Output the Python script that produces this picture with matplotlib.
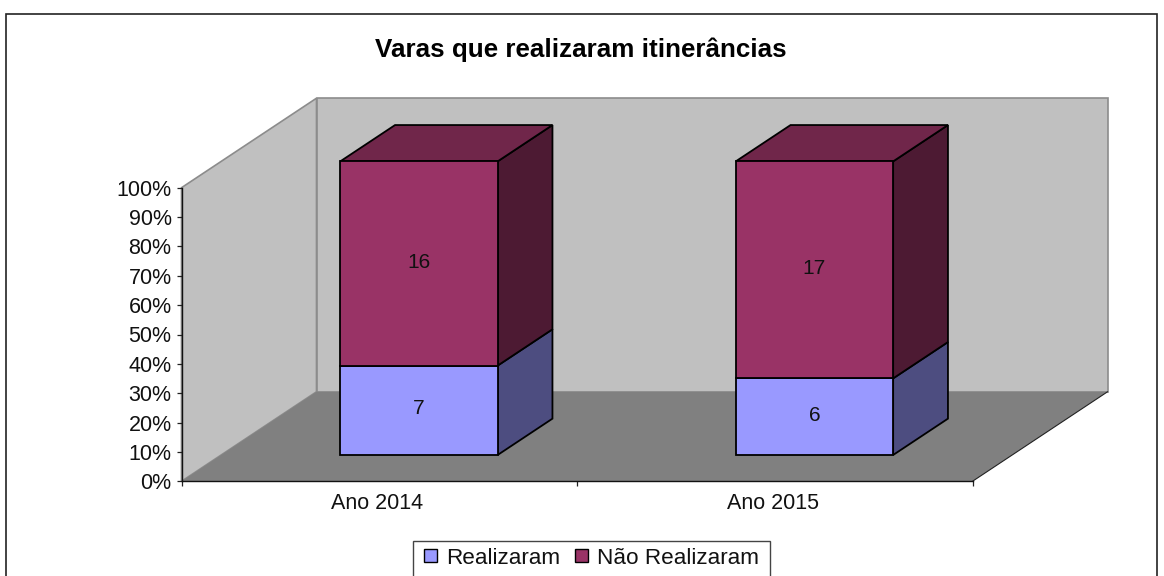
import matplotlib
matplotlib.use('Agg')
import matplotlib.pyplot as plt
from matplotlib.patches import Polygon, Rectangle

W, H = 1164, 576

categories = ['Ano 2014', 'Ano 2015']
realizaram = [7, 6]
nao_realizaram = [16, 17]
yticks = [0, 10, 20, 30, 40, 50, 60, 70, 80, 90, 100]
title = 'Varas que realizaram itinerâncias'

front_col = ['#9999ff', '#993366']
top_col = ['#7777c6', '#70264a']
side_col = ['#4d4d80', '#4d1a33']
wall = '#c0c0c0'
floor = '#808080'

plt.rcParams['font.family'] = ['Liberation Sans', 'DejaVu Sans']

fig = plt.figure(figsize=(W/100, H/100), dpi=100)
bg = fig.add_axes([0, 0, 1, 1])
bg.set_xlim(0, W)
bg.set_ylim(H, 0)
bg.axis('off')
# chart frame and legend box both run off the bottom of the image
bg.add_patch(Rectangle((5.5, 13.5), 1151.5, 600, fc='white', ec='#222222', lw=1.2))
bg.add_patch(Rectangle((413, 541), 356.5, 60, fc='white', ec='#444444', lw=1.0))

# front plane of the 3d box: x in categories, y in percent
L, R, T, B = 181.5, 972.5, 187.7, 481.3
ax = fig.add_axes([L/W, 1-B/H, (R-L)/W, (B-T)/H])
ax.set_xlim(0, len(categories))
ax.set_ylim(0, 100)
ax.patch.set_alpha(0)
for s in ['top', 'right']:
    ax.spines[s].set_visible(False)

# depth in pixels, converted to axes data units
px = len(categories)/(R-L)
py = 100/(B-T)
depth_x, depth_y = 135*px, 89.5*py
n = len(categories)


def off(x, y, d):
    # point at depth d (0 front, 1 back)
    return (x + d*depth_x, y + d*depth_y)


def poly(pts, **kw):
    ax.add_patch(Polygon(pts, closed=True, clip_on=False, **kw))


# walls and floor
poly([off(0, 0, 0), off(0, 100, 0), off(0, 100, 1), off(0, 0, 1)], fc=wall, ec='#8c8c8c', lw=1.2, zorder=1)
poly([off(0, 0, 1), off(0, 100, 1), off(n, 100, 1), off(n, 0, 1)], fc=wall, ec='#8c8c8c', lw=1.2, zorder=1)
poly([off(0, 0, 0), off(0, 0, 1), off(n, 0, 1), off(n, 0, 0)], fc=floor, ec='none', zorder=1.5)
ax.plot([n, n+depth_x], [0, depth_y], color='#222222', lw=0.8, clip_on=False, zorder=1.6)

# bars
bar_w = 0.398
d0, d1 = 0.294, 0.70
for i in range(n):
    x0, x1 = i + 0.5 - bar_w/2, i + 0.5 + bar_w/2
    total = realizaram[i] + nao_realizaram[i]
    bottom = 0
    for j, vals in enumerate([realizaram, nao_realizaram]):
        top = bottom + vals[i]/total*100
        poly([off(x1, bottom, d0), off(x1, top, d0), off(x1, top, d1), off(x1, bottom, d1)],
             fc=side_col[j], ec='black', lw=1.3, zorder=3)
        if j == 1:
            poly([off(x0, top, d0), off(x1, top, d0), off(x1, top, d1), off(x0, top, d1)],
                 fc=top_col[j], ec='black', lw=1.3, zorder=3)
        poly([off(x0, bottom, d0), off(x1, bottom, d0), off(x1, top, d0), off(x0, top, d0)],
             fc=front_col[j], ec='black', lw=1.3, zorder=4)
        cx, cy = off(i + 0.5, (bottom + top)/2 + 0.5, d0)
        ax.text(cx, cy, str(vals[i]), ha='center', va='center', fontsize=15, zorder=5, color='#111111')
        bottom = top

ax.set_yticks(yticks)
ax.set_yticklabels([f'{v}%' for v in yticks], fontsize=15.5, color='#111111')
ax.set_xticks(range(n+1))
ax.set_xticklabels([])
ax.tick_params(length=3.6, width=0.9, color='#222222')
ax.tick_params(axis='y', pad=3.6)
for i, c in enumerate(categories):
    ax.text(i + 0.5 - 2*px, -7.4, c, ha='center', va='center', fontsize=15.5, color='#111111')
for s in ['left', 'bottom']:
    ax.spines[s].set_color('#111111')
    ax.spines[s].set_linewidth(1.0)
    ax.spines[s].set_zorder(2)

fig.text(580.5/W, 1-50/H, title, ha='center', va='center', fontsize=18.7, fontweight='bold', color='black')

# legend entries, the box itself is drawn above
hs = [Rectangle((0, 0), 1, 1, fc=front_col[0], ec='black', lw=1),
      Rectangle((0, 0), 1, 1, fc=front_col[1], ec='black', lw=1)]
fig.legend(hs, ['Realizaram', 'Não Realizaram'], ncol=2, loc='center',
           bbox_to_anchor=(591.5/W, 1-558/H), fontsize=16.2, frameon=False,
           handlelength=0.58, handleheight=0.5, handletextpad=0.4,
           columnspacing=0.66, borderpad=0, borderaxespad=0, labelcolor='#111111')

fig.savefig('out.png', dpi=100)
